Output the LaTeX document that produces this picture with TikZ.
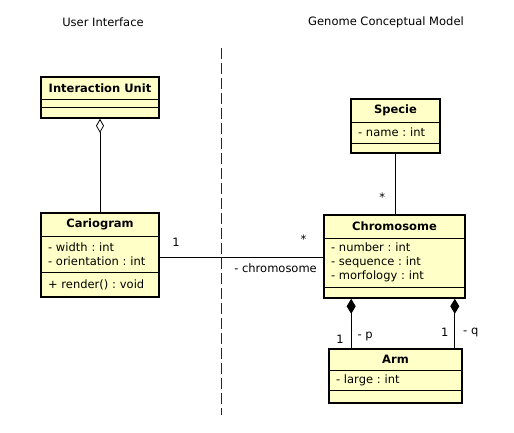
\documentclass[tikz,border=0pt]{standalone}
\usepackage{fontspec}
\usepackage{xcolor}
\usepackage{tikz}
\usetikzlibrary{arrows.meta, positioning, fit}
\newfontfamily\dejavu{DejaVu Sans}
\newcommand{\umlfont}{\dejavu\fontsize{11.5}{14}\selectfont\frenchspacing}
\definecolor{umlyellow}{HTML}{FFFFC8}
\tikzset{
  cpart/.style={draw=black,line width=0.7pt,fill=umlyellow,outer sep=0pt,inner xsep=7pt,inner ysep=0pt,
    align=left,font=\umlfont},
  ctitle/.style={cpart,anchor=north west,align=center,font=\umlfont\bfseries},
  cframe/.style={draw=black,line width=1.6pt,inner sep=0pt},
  assoc/.style={line width=0.8pt,black},
  aggr/.style={assoc,{Diamond[open,length=14pt,width=8pt]}-},
  compo/.style={assoc,{Diamond[length=15pt,width=9pt]}-},
  mult/.style={font=\umlfont,inner sep=1pt},
  sepline/.style={line width=1pt,black!85,dash pattern=on 11pt off 4pt},
}
\begin{document}
\begin{tikzpicture}[x=1pt,y=-1pt]
  \useasboundingbox[fill=white] (0,0) rectangle (514,432);
  % ---- package headings and separator ----
  \node[font=\umlfont] (ui-title) at (103,22) {User Interface};
  \node[font=\umlfont] (gcm-title) at (386,22) {Genome Conceptual Model};
  \coordinate (sep-top) at (221,48);
  \coordinate (sep-bot) at (221,415);
  \draw[sepline] (sep-top) -- (sep-bot);
  % ---- user interface classes ----
  \node[ctitle,minimum width=118pt,minimum height=22pt] (iu) at (41,77) {Interaction Unit};
  \node[cpart,minimum width=118pt,minimum height=8pt,below=0pt of iu] (iu-a) {};
  \node[cpart,minimum width=118pt,minimum height=11pt,below=0pt of iu-a] (iu-m) {};
  \node[cframe,fit=(iu)(iu-m)] (iubox) {};
  \node[ctitle,minimum width=118pt,minimum height=23pt] (cg) at (41,213) {Cariogram};
  \node[cpart,text width=104pt,minimum height=36pt,below=0pt of cg] (cg-a) {- width : int\\- orientation : int};
  \node[cpart,text width=104pt,minimum height=25pt,below=0pt of cg-a] (cg-m) {+ render() : void};
  \node[cframe,fit=(cg)(cg-m)] (cgbox) {};
  % ---- genome model classes ----
  \node[ctitle,minimum width=89pt,minimum height=23pt] (sp) at (351,99) {Specie};
  \node[cpart,text width=75pt,minimum height=21pt,below=0pt of sp] (sp-a) {- name : int};
  \node[cpart,minimum width=89pt,minimum height=10pt,below=0pt of sp-a] (sp-m) {};
  \node[cframe,fit=(sp)(sp-m)] (spbox) {};
  \node[ctitle,minimum width=141pt,minimum height=23pt] (ch) at (324,215) {Chromosome};
  \node[cpart,text width=127pt,minimum height=49pt,below=0pt of ch] (ch-a) {- number : int\\- sequence : int\\- morfology : int};
  \node[cpart,minimum width=141pt,minimum height=11pt,below=0pt of ch-a] (ch-m) {};
  \node[cframe,fit=(ch)(ch-m)] (chbox) {};
  \node[ctitle,minimum width=133pt,minimum height=21pt] (arm) at (329,349) {Arm};
  \node[cpart,text width=119pt,minimum height=20pt,below=0pt of arm] (arm-a) {- large : int};
  \node[cpart,minimum width=133pt,minimum height=13pt,below=0pt of arm-a] (arm-m) {};
  \node[cframe,fit=(arm)(arm-m)] (armbox) {};
  % ---- relations ----
  \draw[aggr] (iubox.south) -- (cgbox.north);
  \draw[assoc] ([yshift=-2pt]cgbox.east) -- ([yshift=-2pt]cgbox.east -| chbox.west)
    node[mult,pos=0.1,above=9pt] (m-cg) {1}
    node[mult,pos=0.88,above=12pt] (m-ch) {*}
    node[mult,at end,below left=5pt and 5pt] (r-ch) {- chromosome};
  \draw[assoc] (spbox.south) -- (spbox.south |- chbox.north)
    node[mult,pos=0.72,left=9pt] (m-sp) {*};
  \draw[compo] ([xshift=28pt]chbox.south west) -- ([xshift=28pt]chbox.south west |- armbox.north)
    node[mult,pos=0.82,left=6pt] (m-p) {1}
    node[mult,pos=0.76,right=5pt] (r-p) {- p};
  \draw[compo] ([xshift=-11pt]chbox.south east) -- ([xshift=-11pt]chbox.south east |- armbox.north)
    node[mult,pos=0.68,left=5pt] (m-q) {1}
    node[mult,pos=0.68,right=7pt] (r-q) {- q};
\end{tikzpicture}
\end{document}
